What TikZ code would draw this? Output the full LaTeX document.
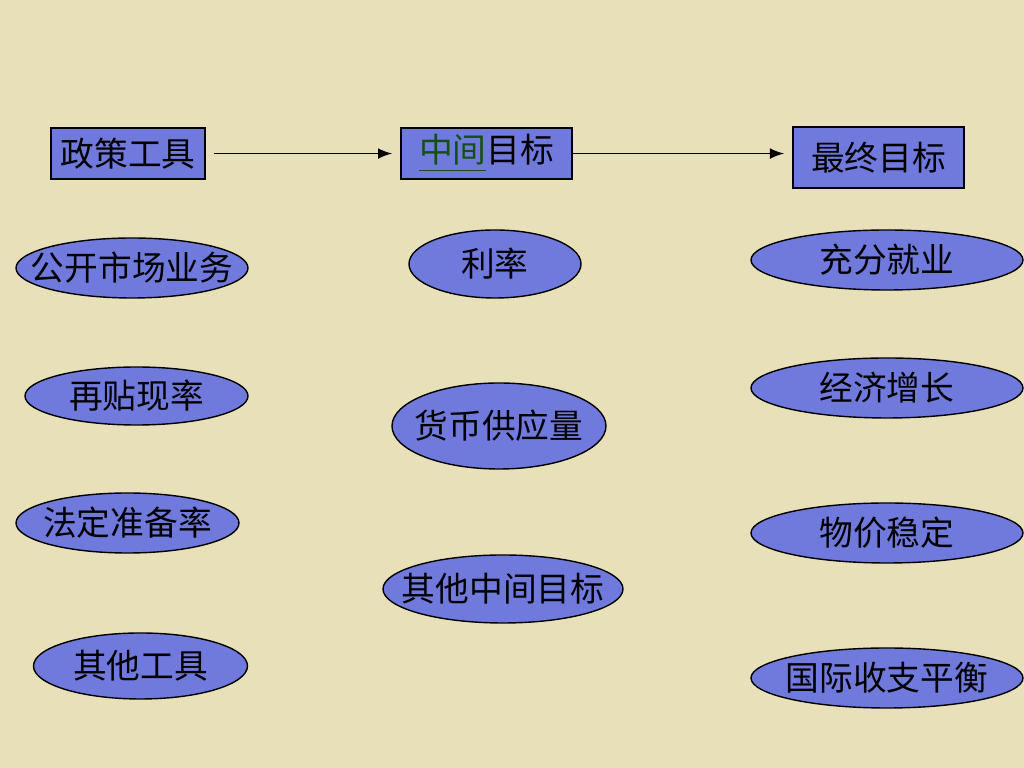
\documentclass[tikz,border=0pt]{standalone}
\usepackage{fontspec}
\setmainfont{Noto Sans CJK SC}
\usetikzlibrary{arrows}
\usetikzlibrary{shapes}

\definecolor{paper}{RGB}{232,224,185}
\definecolor{slate}{RGB}{112,122,220}
\definecolor{linkgreen}{RGB}{20,80,20}

\newcommand{\ovaltext}[1]{\makebox[0pt]{#1}}

\begin{document}
\begin{tikzpicture}[scale = 10, font=\fontsize{9.6}{11}\selectfont]
	\tikzstyle{headStyle}=[shape = rectangle, draw, fill = slate, inner sep = 0pt, line width = 0.5pt]
	\tikzstyle{ovalStyle}=[shape = ellipse, draw, fill = slate, inner sep = 0pt, line width = 0.4pt]
	\tikzstyle{arrowStyle}=[-latex, line width = 0.4pt, shorten >= 0.8mm]
	\fill[paper] (0, 0) rectangle (1.024, 0.768);
	\useasboundingbox (0, 0) rectangle (1.024, 0.768);
	\node[headStyle, minimum width = 15.4mm, minimum height = 5.1mm] (h0) at (0.128, 0.6145) {政策工具};
	\node[headStyle, minimum width = 17.1mm, minimum height = 5.1mm] (h1) at (0.4865, 0.6145) {\textcolor{linkgreen}{\underline{中间}}目标};
	\node[headStyle, minimum width = 17.1mm, minimum height = 6.1mm] (h2) at (0.8785, 0.6105) {最终目标};
	
	\node[ovalStyle, minimum width = 23.2mm, minimum height = 6.0mm] (t0) at (0.132, 0.500) {\ovaltext{公开市场业务}};
	\node[ovalStyle, minimum width = 22.3mm, minimum height = 5.8mm] (t1) at (0.1365, 0.372) {\ovaltext{再贴现率}};
	\node[ovalStyle, minimum width = 22.3mm, minimum height = 6.0mm] (t2) at (0.1275, 0.245) {\ovaltext{法定准备率}};
	\node[ovalStyle, minimum width = 21.4mm, minimum height = 6.6mm] (t3) at (0.1405, 0.102) {\ovaltext{其他工具}};
	
	\node[ovalStyle, minimum width = 17.2mm, minimum height = 6.8mm] (m0) at (0.495, 0.504) {\ovaltext{利率}};
	\node[ovalStyle, minimum width = 21.4mm, minimum height = 8.6mm] (m1) at (0.499, 0.342) {\ovaltext{货币供应量}};
	\node[ovalStyle, minimum width = 24.0mm, minimum height = 6.8mm] (m2) at (0.503, 0.179) {\ovaltext{其他中间目标}};
	
	\node[ovalStyle, minimum width = 27.2mm, minimum height = 6.0mm] (g0) at (0.887, 0.508) {\ovaltext{充分就业}};
	\node[ovalStyle, minimum width = 27.2mm, minimum height = 6.0mm] (g1) at (0.887, 0.380) {\ovaltext{经济增长}};
	\node[ovalStyle, minimum width = 27.2mm, minimum height = 6.0mm] (g2) at (0.887, 0.235) {\ovaltext{物价稳定}};
	\node[ovalStyle, minimum width = 27.2mm, minimum height = 6.0mm] (g3) at (0.887, 0.090) {\ovaltext{国际收支平衡}};
	
	\draw[arrowStyle, shorten <= 0.8mm] (h0.east) -- (h1.west);
	\draw[arrowStyle] (h1.east) -- (h1.east -| h2.west);
\end{tikzpicture}
\end{document}
